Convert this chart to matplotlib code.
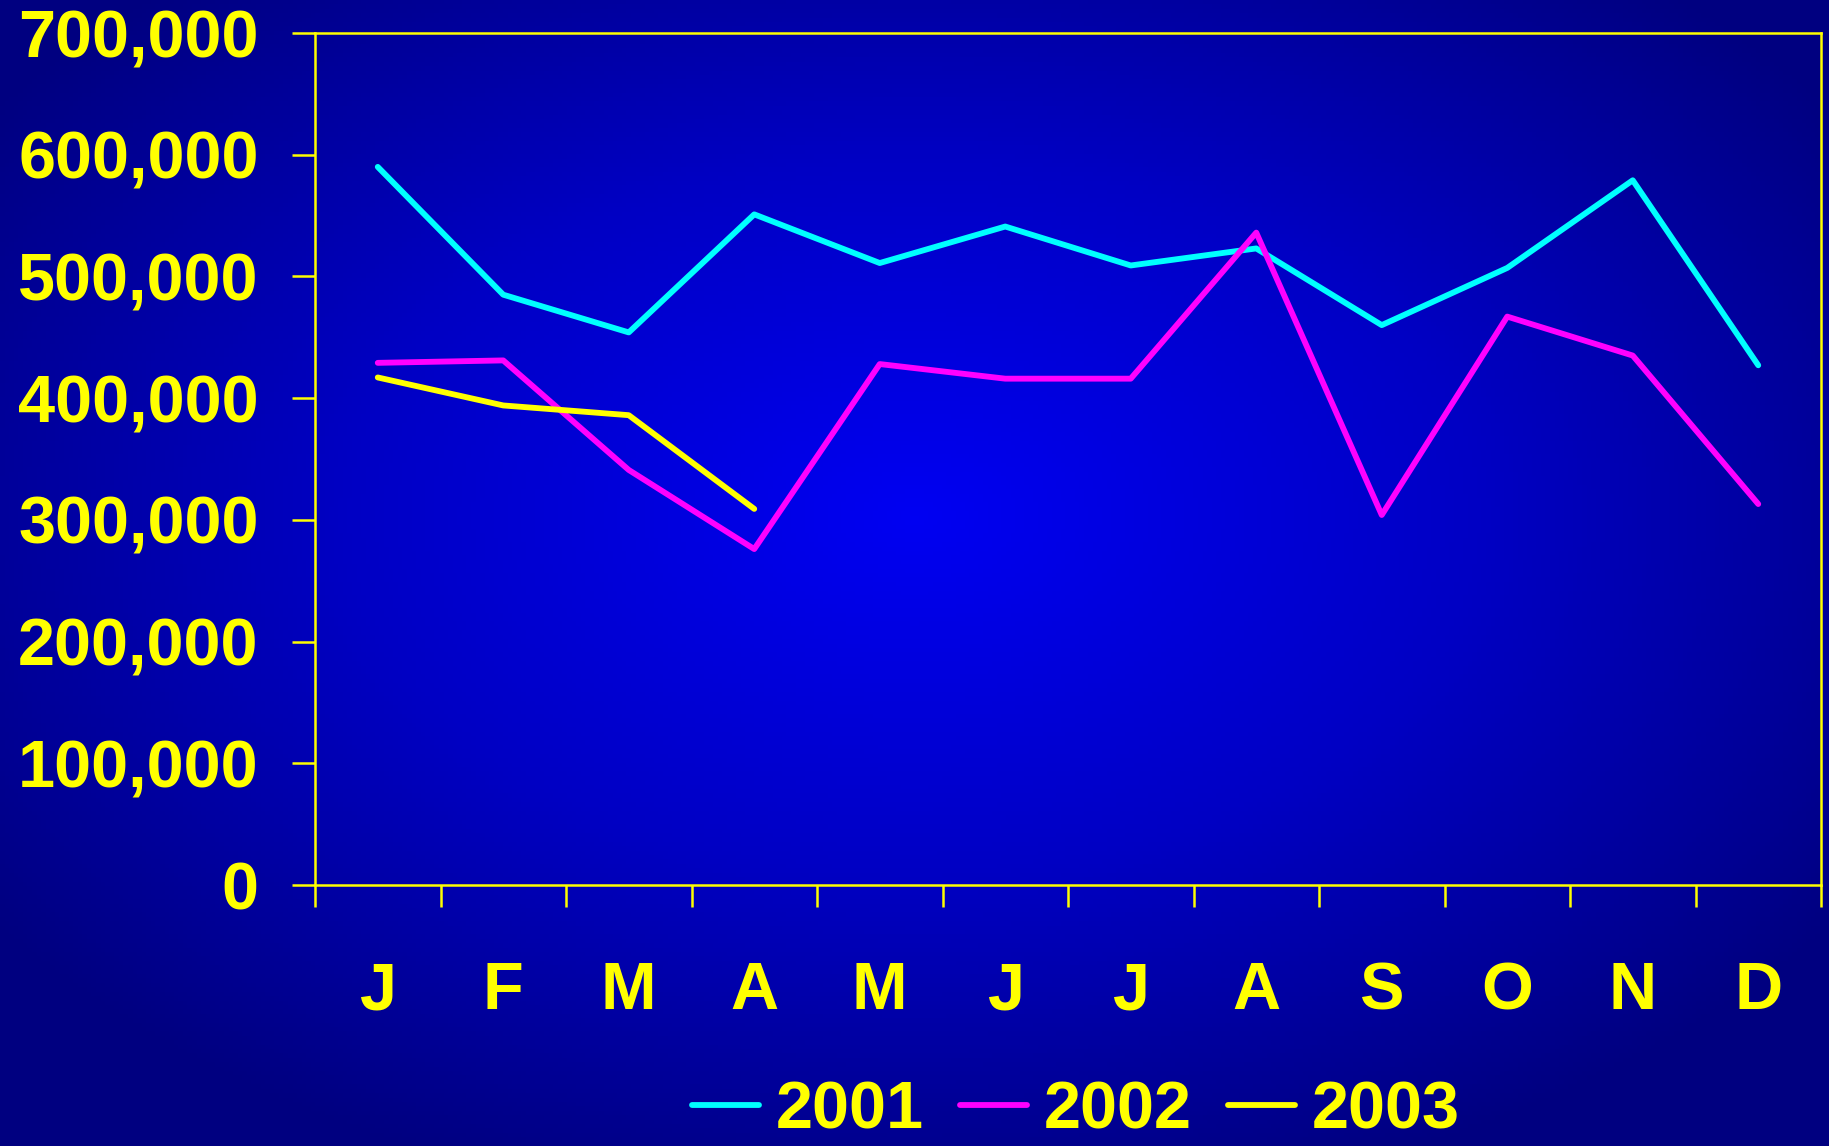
import numpy as np
import matplotlib
matplotlib.use("Agg")
import matplotlib.pyplot as plt
from matplotlib.colors import LinearSegmentedColormap

months = ["J", "F", "M", "A", "M", "J", "J", "A", "S", "O", "N", "D"]
y2001 = [590000, 485000, 454000, 551000, 511000, 541000, 509000, 523000, 460000, 507000, 579000, 427000]
y2002 = [429000, 431000, 341000, 276000, 428000, 416000, 416000, 536000, 304000, 467000, 435000, 313000]
y2003 = [417000, 394000, 386000, 309000]
yticks = [0, 100000, 200000, 300000, 400000, 500000, 600000, 700000]
ytick_labels = ["0", "100,000", "200,000", "300,000", "400,000", "500,000", "600,000", "700,000"]

plt.rcParams['font.family'] = ['Liberation Sans', 'DejaVu Sans']
plt.rcParams['font.weight'] = 'bold'

W, H = 1829, 1146
fig = plt.figure(figsize=(W / 100, H / 100), dpi=100)

# radial gradient background
bg = fig.add_axes([0, 0, 1, 1], zorder=-10)
gx, gy = np.meshgrid(np.linspace(0, 1, 400), np.linspace(0, 1, 260))
cx, cy = 0.5, 0.45
r = np.sqrt(((gx - cx) / 0.62) ** 2 + ((gy - cy) / 0.62) ** 2)
r = np.clip(r, 0, 1)
cmap = LinearSegmentedColormap.from_list("bg", ["#0000F2", "#0000C4", "#000080"])
bg.imshow(r, cmap=cmap, extent=[0, 1, 0, 1], aspect='auto', origin='upper', vmin=0, vmax=1)
bg.axis('off')

ax = fig.add_axes([315 / W, 1 - 885 / H, (1821 - 315) / W, (885 - 33) / H])
ax.set_facecolor('none')

lw = 4.2
x = np.arange(len(months))
l1, = ax.plot(x, y2001, color="#00FFFF", lw=lw, solid_capstyle='round', solid_joinstyle='round', label="2001")
l2, = ax.plot(x, y2002, color="#FF00FF", lw=lw, solid_capstyle='round', solid_joinstyle='round', label="2002")
l3, = ax.plot(x[:len(y2003)], y2003, color="#FFFF00", lw=lw, solid_capstyle='round', solid_joinstyle='round', label="2003")

ax.set_xlim(-0.5, len(months) - 0.5)
ax.set_ylim(0, 700000)

for s in ax.spines.values():
    s.set_color("#FFFF00")
    s.set_linewidth(1.8)

ax.set_yticks(yticks)
ax.set_yticklabels(ytick_labels)
ax.tick_params(axis='y', colors="#FFFF00", length=16.5, width=1.8, pad=24, labelsize=48)

ax.set_xticks(np.arange(len(months) + 1) - 0.5)
ax.set_xticklabels([])
ax.tick_params(axis='x', which='major', colors="#FFFF00", length=16, width=1.8)
ax.set_xticks(x, minor=True)
ax.set_xticklabels(months, minor=True)
ax.tick_params(axis='x', which='minor', length=0, pad=55, labelsize=48, labelcolor="#FFFF00")

for t in ax.get_yticklabels() + ax.get_xticklabels(minor=True):
    t.set_fontweight('bold')

leg = fig.legend(handles=[l1, l2, l3], loc='lower center', bbox_to_anchor=(1076 / W, -0.020),
                 ncol=3, frameon=False, fontsize=48, handlelength=1.0, handletextpad=0.25,
                 columnspacing=0.55, borderaxespad=0)
for t in leg.get_texts():
    t.set_color("#FFFF00")
    t.set_fontweight('bold')

fig.savefig("out.png", dpi=100)
